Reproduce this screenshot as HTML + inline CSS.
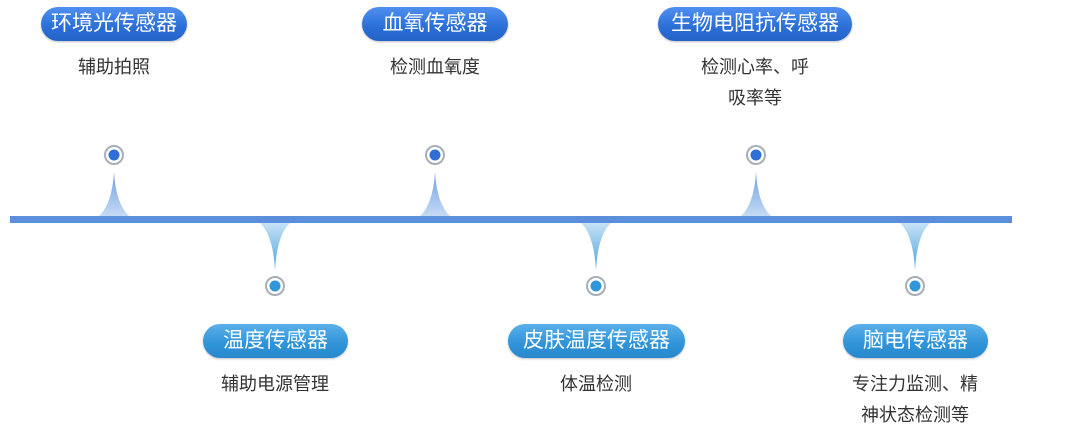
<!DOCTYPE html>
<html><head><meta charset="utf-8"><style>
body{margin:0;width:1080px;height:437px;background:#fff;position:relative;overflow:hidden;font-family:"Liberation Sans","Noto Sans CJK SC",sans-serif}
.p{position:absolute;height:34px;line-height:34px;border-radius:17px;color:#fff;font-size:21px;text-align:center;box-sizing:border-box;white-space:nowrap}
.t{background:linear-gradient(#4f8ff0,#2a6fd6 60%,#2463c8);box-shadow:0 1px 2px rgba(0,0,0,.25)}
.b{background:linear-gradient(#5ab0ea,#2f93d8 60%,#2888cc);box-shadow:0 1px 2px rgba(0,0,0,.25)}
.d{position:absolute;color:#333;font-size:18px;text-align:center;line-height:31px;width:200px}
</style></head><body>
<svg width="1080" height="437" style="position:absolute;left:0;top:0">
<defs>
<linearGradient id="gu" x1="0" y1="0" x2="0" y2="1"><stop offset="0" stop-color="#6f9fe0"/><stop offset="1" stop-color="#c8dcf5"/></linearGradient>
<linearGradient id="gd" x1="0" y1="0" x2="0" y2="1"><stop offset="0" stop-color="#c8e4f7"/><stop offset="1" stop-color="#4fa3dc"/></linearGradient>
</defs>
<g fill="url(#gu)">
<path d="M98,217 Q112,205 114,172 Q116,205 130,217Z"/>
<path d="M419,217 Q433,205 435,172 Q437,205 451,217Z"/>
<path d="M740,217 Q754,205 756,172 Q758,205 772,217Z"/>
</g>
<g fill="url(#gd)">
<path d="M259,222 Q273,234 275,270 Q277,234 291,222Z"/>
<path d="M580,222 Q594,234 596,270 Q598,234 612,222Z"/>
<path d="M899,222 Q913,234 915,270 Q917,234 931,222Z"/>
</g>
<rect x="10" y="216" width="1002" height="7" fill="#5b8fdc"/>
<g fill="#fff" stroke="#a8aeb8" stroke-width="2">
<circle cx="114" cy="155" r="9"/><circle cx="435" cy="155" r="9"/><circle cx="756" cy="155" r="9"/>
<circle cx="275" cy="286" r="9"/><circle cx="596" cy="286" r="9"/><circle cx="915" cy="286" r="9"/>
</g>
<g fill="#2f6fd6"><circle cx="114" cy="155" r="5.5"/><circle cx="435" cy="155" r="5.5"/><circle cx="756" cy="155" r="5.5"/></g>
<g fill="#2f97da"><circle cx="275" cy="286" r="5.5"/><circle cx="596" cy="286" r="5.5"/><circle cx="915" cy="286" r="5.5"/></g>
</svg>
<div class="p t" style="left:41px;top:7px;width:146px">环境光传感器</div>
<div class="p t" style="left:362px;top:7px;width:146px">血氧传感器</div>
<div class="p t" style="left:658px;top:7px;width:194px">生物电阻抗传感器</div>
<div class="p b" style="left:203px;top:324px;width:145px">温度传感器</div>
<div class="p b" style="left:508px;top:324px;width:177px">皮肤温度传感器</div>
<div class="p b" style="left:843px;top:324px;width:145px">脑电传感器</div>
<div class="d" style="left:14px;top:52px">辅助拍照</div>
<div class="d" style="left:335px;top:52px">检测血氧度</div>
<div class="d" style="left:655px;top:52px">检测心率、呼<br>吸率等</div>
<div class="d" style="left:175px;top:369px">辅助电源管理</div>
<div class="d" style="left:496px;top:369px">体温检测</div>
<div class="d" style="left:815px;top:369px">专注力监测、精<br>神状态检测等</div>
</body></html>
